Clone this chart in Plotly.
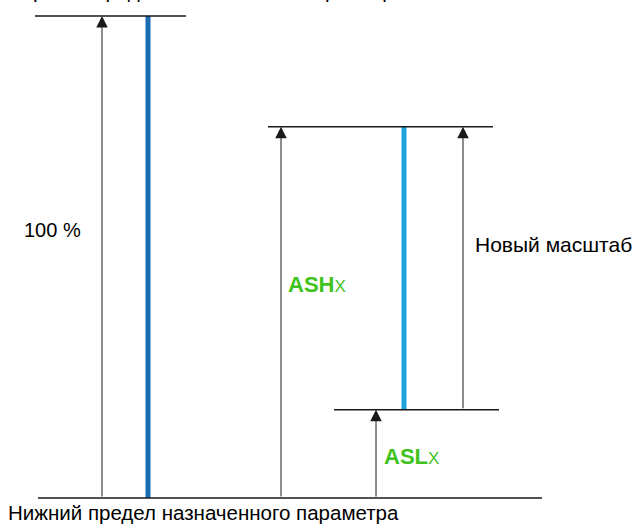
import plotly.graph_objects as go

# Data (percent of assigned parameter range)
full_range = [0, 100]          # lower / upper limit of assigned parameter
new_scale = [18.3, 77.0]       # ASLx / ASHx
labels = {
    "top": "Верхний предел назначенного параметра",
    "bottom": "Нижний предел назначенного параметра",
    "full": "100 %",
    "new": "Новый масштаб",
}

# Layout helpers: x in pixels, y in percent
PX_PER_UNIT = 4.82
Y_BOTTOM_PX = 498
H = 527
y_lo = -(H - Y_BOTTOM_PX) / PX_PER_UNIT
y_hi = 100 + (Y_BOTTOM_PX - 482) / PX_PER_UNIT

def ypx(p):
    return (Y_BOTTOM_PX - p) / PX_PER_UNIT

FONT = "Liberation Sans, Arial, sans-serif"
GREEN = "#3fc21c"
LINE = "#1a1a1a"

fig = go.Figure()

# Blue bars
fig.add_trace(go.Scatter(x=[148, 148], y=full_range, mode="lines",
                         line=dict(color="#1b6db3", width=5), hoverinfo="skip"))
fig.add_trace(go.Scatter(x=[404, 404], y=new_scale, mode="lines",
                         line=dict(color="#1ea3db", width=5), hoverinfo="skip"))

shapes = []
def hline(x0, x1, y):
    shapes.append(dict(type="line", xref="x", yref="y", x0=x0, x1=x1, y0=y, y1=y,
                       line=dict(color=LINE, width=1.5)))

hline(35, 186, full_range[1])
hline(38, 542, full_range[0])
hline(268, 493, new_scale[1])
hline(334, 499, new_scale[0])

annotations = []
def arrow(x, y0, y1):
    annotations.append(dict(x=x, y=y1, ax=x, ay=y0, xref="x", yref="y",
                            axref="x", ayref="y", text="", showarrow=True,
                            arrowhead=2, arrowsize=2.3, arrowwidth=1,
                            arrowcolor=LINE))

arrow(102, full_range[0], full_range[1])
arrow(281, full_range[0], new_scale[1])
arrow(463, new_scale[0], new_scale[1])
arrow(376, full_range[0], new_scale[0])

def text(x, y, t, size=17, color="black", xanchor="left", yanchor="middle", yref="y"):
    annotations.append(dict(x=x, y=y, xref="x", yref=yref, text=t, showarrow=False,
                            xanchor=xanchor, yanchor=yanchor,
                            font=dict(family=FONT, size=size, color=color)))

text(22, ypx(230), labels["full"], size=20)
text(473, ypx(244), labels["new"], size=21)
text(286, ypx(284), "<b>ASH</b><span style='font-size:17px'>X</span>", size=22, color=GREEN)
text(382, ypx(456), "<b>ASL</b><span style='font-size:17px'>X</span>", size=22, color=GREEN)
text(6, ypx(512), labels["bottom"], size=20.5)
# upper label, mostly cut off by the top edge as in the reference
text(6, 1 + 9.5 / H, labels["top"], size=20.5, yref="paper")

fig.update_layout(
    width=635, height=527,
    margin=dict(l=0, r=0, t=0, b=0),
    paper_bgcolor="white", plot_bgcolor="white",
    showlegend=False,
    shapes=shapes, annotations=annotations,
    xaxis=dict(range=[0, 635], visible=False, fixedrange=True),
    yaxis=dict(range=[y_lo, y_hi], visible=False, fixedrange=True),
)

fig.write_html("out.html", config={"displayModeBar": False},
               post_script="document.body.style.margin='0';document.body.style.overflow='hidden';")
